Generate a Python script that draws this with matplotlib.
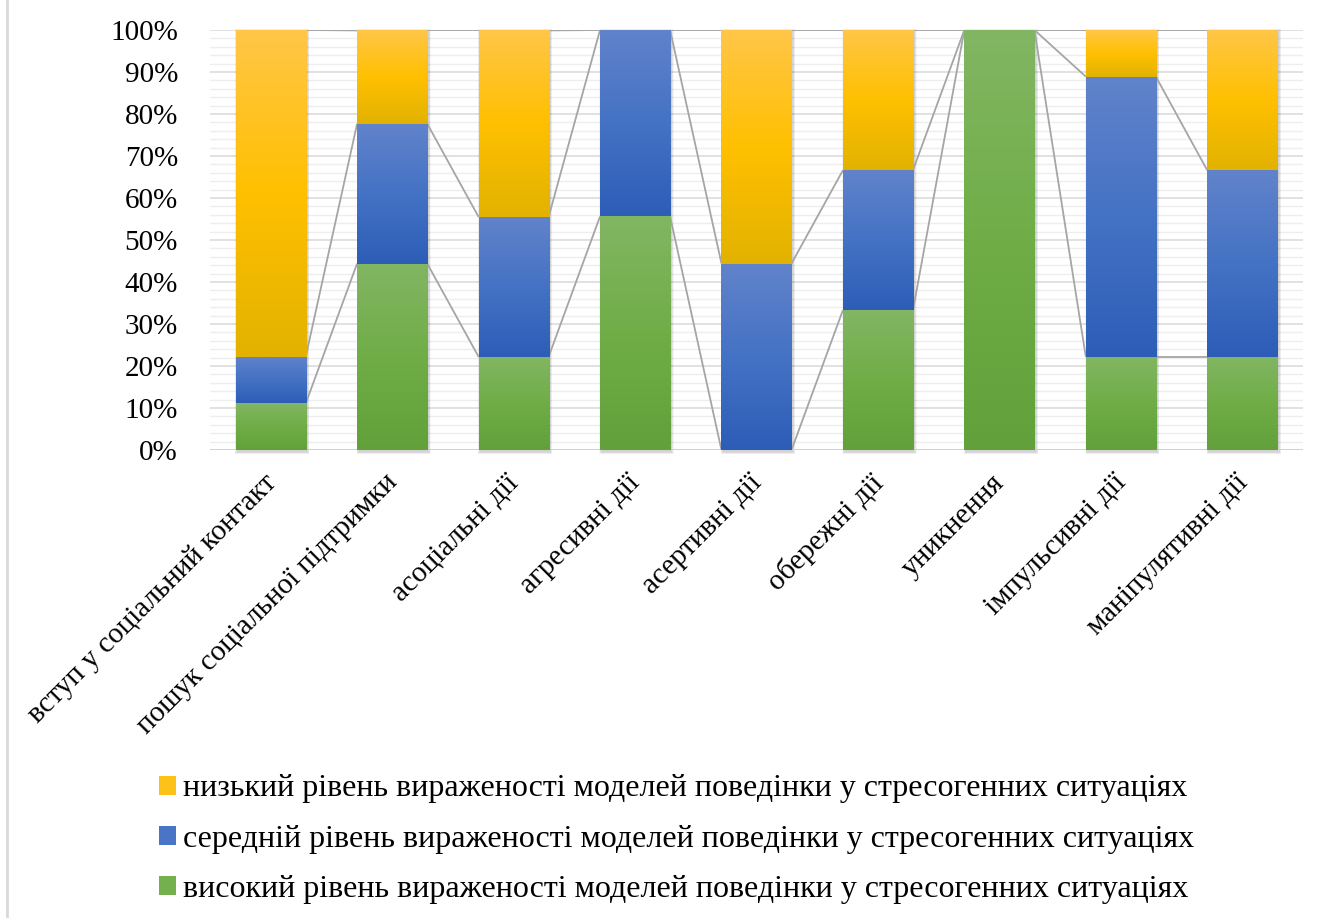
import matplotlib
matplotlib.use("Agg")
import matplotlib.pyplot as plt
import numpy as np
from matplotlib.colors import LinearSegmentedColormap
from matplotlib.patches import Rectangle, Patch
from matplotlib.lines import Line2D
from matplotlib import font_manager as fm
import matplotlib.transforms as mtransforms

categories = ["вступ у соціальний контакт", "пошук соціальної підтримки",
              "асоціальні дії", "агресивні дії", "асертивні дії",
              "обережні дії", "уникнення", "імпульсивні дії", "маніпулятивні дії"]
high = [11.1, 44.4, 22.2, 55.6, 0.0, 33.3, 100.0, 22.2, 22.2]
medium = [11.1, 33.3, 33.3, 44.4, 44.4, 33.3, 0.0, 66.7, 44.4]
low = [77.8, 22.2, 44.4, 0.0, 55.6, 33.4, 0.0, 11.1, 33.4]
series_labels = ["високий рівень вираженості моделей поведінки у стресогенних ситуаціях",
                 "середній рівень вираженості моделей поведінки у стресогенних ситуаціях",
                 "низький рівень вираженості моделей поведінки у стресогенних ситуаціях"]
yticks = [0, 10, 20, 30, 40, 50, 60, 70, 80, 90, 100]

# (bottom-dark, base, top-light)
grads = [("#61a03a", "#70ad47", "#82b663"),
         ("#2d5db7", "#4472c4", "#6183cb"),
         ("#e2b200", "#ffc000", "#ffc648")]
legend_colors = ["#75b04f", "#4a74c5", "#fcc21a"]

serif_path = fm.findfont(fm.FontProperties(family=["Liberation Serif"]))
def fp(size):
    return fm.FontProperties(fname=serif_path, size=size)

fig = plt.figure(figsize=(13.21, 9.18), dpi=100)
ax = fig.add_axes([210/1321, 1-450/918, 1093/1321, 420/918])

n = len(categories)
x = np.arange(n)
w = 0.577

ax.set_xlim(-0.5, n-0.5)
ax.set_ylim(0, 100)

# gridlines
for v in np.arange(0, 101, 2):
    if v % 10 == 0:
        ax.axhline(v, color="#d9d9d9", lw=1.1, zorder=0)
    else:
        ax.axhline(v, color="#eeeeee", lw=1.0, zorder=0)

data = [np.array(high), np.array(medium), np.array(low)]
bottoms = np.zeros(n)
tops_all = []
grad = np.linspace(0, 1, 256).reshape(-1, 1)
for si, vals in enumerate(data):
    cmap = LinearSegmentedColormap.from_list("g%d" % si, list(grads[si]))
    for i in range(n):
        if vals[i] <= 0:
            continue
        b = bottoms[i]
        t = b + vals[i]
        ax.imshow(grad, cmap=cmap, origin="lower", aspect="auto",
                  extent=[x[i]-w/2, x[i]+w/2, b, t], interpolation="bilinear",
                  zorder=3)
    bottoms = bottoms + vals
    tops_all.append(bottoms.copy())

# shadows
off = mtransforms.ScaledTranslation(1.5/100, -1.5/100, fig.dpi_scale_trans)
for i in range(n):
    for k in range(1, 6):
        r = Rectangle((x[i]-w/2 - k*0.0035, 0 - k*0.12), w + 2*k*0.0035, 100 + 2*k*0.12,
                      facecolor="black", alpha=0.035, edgecolor="none",
                      transform=ax.transData + off, zorder=2, clip_on=False)
        ax.add_patch(r)

# series lines
for tops in tops_all:
    for i in range(n-1):
        ax.plot([x[i]+w/2, x[i+1]-w/2], [tops[i], tops[i+1]],
                color="#a5a5a5", lw=1.3, zorder=2.5, solid_capstyle="butt")

ax.axhline(0, color="#d0d0d0", lw=2.0, zorder=2.6)

for s in ax.spines.values():
    s.set_visible(False)
ax.set_yticks(yticks)
ax.set_yticklabels(["%d%%" % v for v in yticks], fontproperties=fp(21))
ax.set_xticks(x)
ax.set_xticklabels(categories, fontproperties=fp(21), rotation=45, ha="right",
                   rotation_mode="anchor")
ax.tick_params(axis="both", length=0)
ax.tick_params(axis="y", pad=23)
ax.tick_params(axis="x", pad=14)
shift = mtransforms.ScaledTranslation(-8/100, 0, fig.dpi_scale_trans)
for lbl in ax.get_xticklabels():
    lbl.set_transform(lbl.get_transform() + shift)

# left border line
fig.add_artist(Line2D([7/1321, 7/1321], [0, 1], transform=fig.transFigure,
                      color="#d9d9d9", lw=2))

handles = [Patch(facecolor=legend_colors[2]), Patch(facecolor=legend_colors[1]),
           Patch(facecolor=legend_colors[0])]
labels = [series_labels[2], series_labels[1], series_labels[0]]
fig.legend(handles, labels, loc="center left", bbox_to_anchor=(159/1321, 1-839/918),
           frameon=False, prop=fp(23), handlelength=0.53,
           handleheight=0.53, handletextpad=0.22, labelspacing=0.66, borderpad=0,
           borderaxespad=0)

fig.savefig("out.png", dpi=100)
